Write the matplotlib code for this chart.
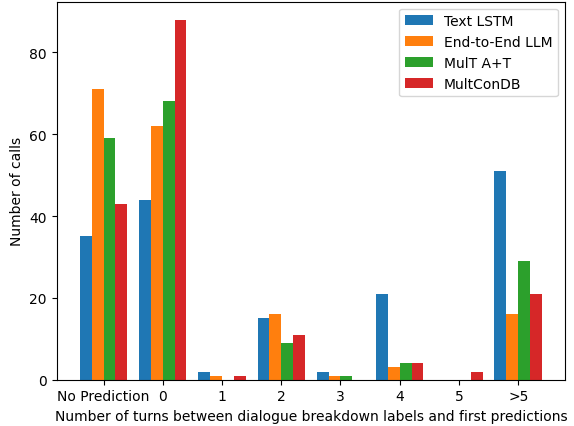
import numpy as np
import matplotlib.pyplot as plt

categories = ['No Prediction', '0', '1', '2', '3', '4', '5', '>5']
text_lstm = [35, 44, 2, 15, 2, 21, 0, 51]
e2e_llm = [71, 62, 1, 16, 1, 3, 0, 16]
mult_at = [59, 68, 0, 9, 1, 4, 0, 29]
multcondb = [43, 88, 1, 11, 0, 4, 2, 21]

series = [('Text LSTM', text_lstm), ('End-to-End LLM', e2e_llm),
          ('MulT A+T', mult_at), ('MultConDB', multcondb)]

x = np.arange(len(categories))
w = 0.2
fig, ax = plt.subplots(figsize=(5.74, 4.27), dpi=100)
for k, (name, vals) in enumerate(series):
    ax.bar(x + (k - 1.5) * w, vals, w, label=name)
ax.set_xticks(x)
ax.set_xticklabels(categories)
ax.set_xlabel('Number of turns between dialogue breakdown labels and first predictions')
ax.set_ylabel('Number of calls')
ax.legend(loc='upper right')
fig.subplots_adjust(left=0.0988, right=0.9843, top=0.994, bottom=0.1084)
fig.savefig('out.png')
